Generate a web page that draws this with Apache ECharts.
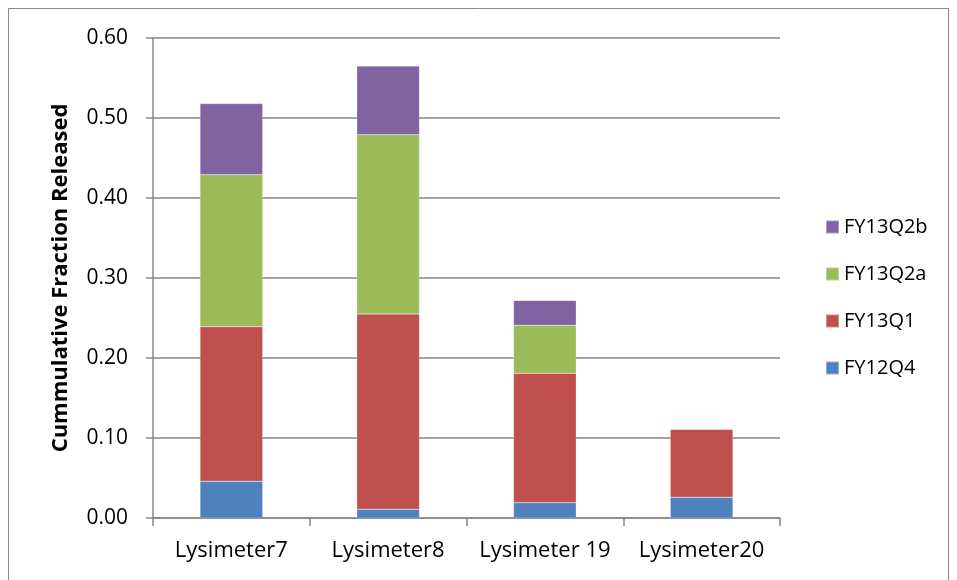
<!DOCTYPE html>
<html>
<head>
<meta charset="utf-8">
<script src="https://cdn.jsdelivr.net/npm/echarts@6/dist/echarts.min.js"></script>
<style>
  html, body { margin: 0; padding: 0; background: #fff; }
  #chart { width: 957px; height: 580px; }
</style>
</head>
<body>
<div id="chart"></div>
<script>
// categories and series values (stacked increments)
var categories = ['Lysimeter7', 'Lysimeter8', 'Lysimeter 19', 'Lysimeter20'];
var fy12q4  = [0.046, 0.011, 0.019, 0.026];
var fy13q1  = [0.193, 0.244, 0.162, 0.085];
var fy13q2a = [0.190, 0.224, 0.060, 0];
var fy13q2b = [0.089, 0.086, 0.031, 0];
var yTicks = { min: 0, max: 0.6, interval: 0.1 };

var font = 'Open Sans';
var myChart = echarts.init(document.getElementById('chart'));

function bar(name, data, color) {
    return {
        name: name,
        type: 'bar',
        stack: 'total',
        barWidth: '40%',
        data: data,
        itemStyle: { color: color, borderColor: 'rgba(255,255,255,0.35)', borderWidth: 0.5 },
        emphasis: { disabled: true }
    };
}

var option = {
    animation: false,
    backgroundColor: '#fff',
    graphic: [{
        type: 'rect',
        shape: { x: 8.5, y: 8.5, width: 940, height: 600 },
        style: { fill: 'none', stroke: '#888', lineWidth: 1 },
        silent: true
    }],
    grid: { left: 153, right: 177, top: 38, bottom: 62 },
    legend: {
        orient: 'vertical',
        left: 820,
        top: 212,
        itemWidth: 13,
        itemHeight: 13,
        itemGap: 27,
        icon: 'rect',
        textStyle: { fontFamily: font, fontSize: 20, color: '#000', padding: [0, 0, 0, 0] },
        data: ['FY13Q2b', 'FY13Q2a', 'FY13Q1', 'FY12Q4']
    },
    xAxis: {
        type: 'category',
        data: categories,
        axisLine: { lineStyle: { color: '#868686', width: 1.5 } },
        axisTick: { show: true, interval: 0, length: 8, lineStyle: { color: '#868686', width: 1.5 } },
        axisLabel: { interval: 0, fontFamily: font, fontSize: 22, color: '#000', margin: 22 }
    },
    yAxis: {
        type: 'value',
        min: yTicks.min,
        max: yTicks.max,
        interval: yTicks.interval,
        name: 'Cummulative Fraction Released',
        nameLocation: 'middle',
        nameGap: 81,
        nameTextStyle: { fontFamily: font, fontSize: 22, fontWeight: 'bold', color: '#000' },
        axisLine: { show: true, lineStyle: { color: '#868686', width: 1.5 } },
        axisTick: { show: true, length: 7, lineStyle: { color: '#868686', width: 1.5 } },
        splitLine: { lineStyle: { color: '#868686', width: 1.5 } },
        axisLabel: {
            fontFamily: font, fontSize: 21, color: '#000', margin: 25,
            formatter: function (v) { return v.toFixed(2); }
        }
    },
    series: [
        bar('FY12Q4', fy12q4, '#4F81BD'),
        bar('FY13Q1', fy13q1, '#C0504D'),
        bar('FY13Q2a', fy13q2a, '#9BBB59'),
        bar('FY13Q2b', fy13q2b, '#8064A2')
    ]
};

myChart.setOption(option);
</script>
</body>
</html>
